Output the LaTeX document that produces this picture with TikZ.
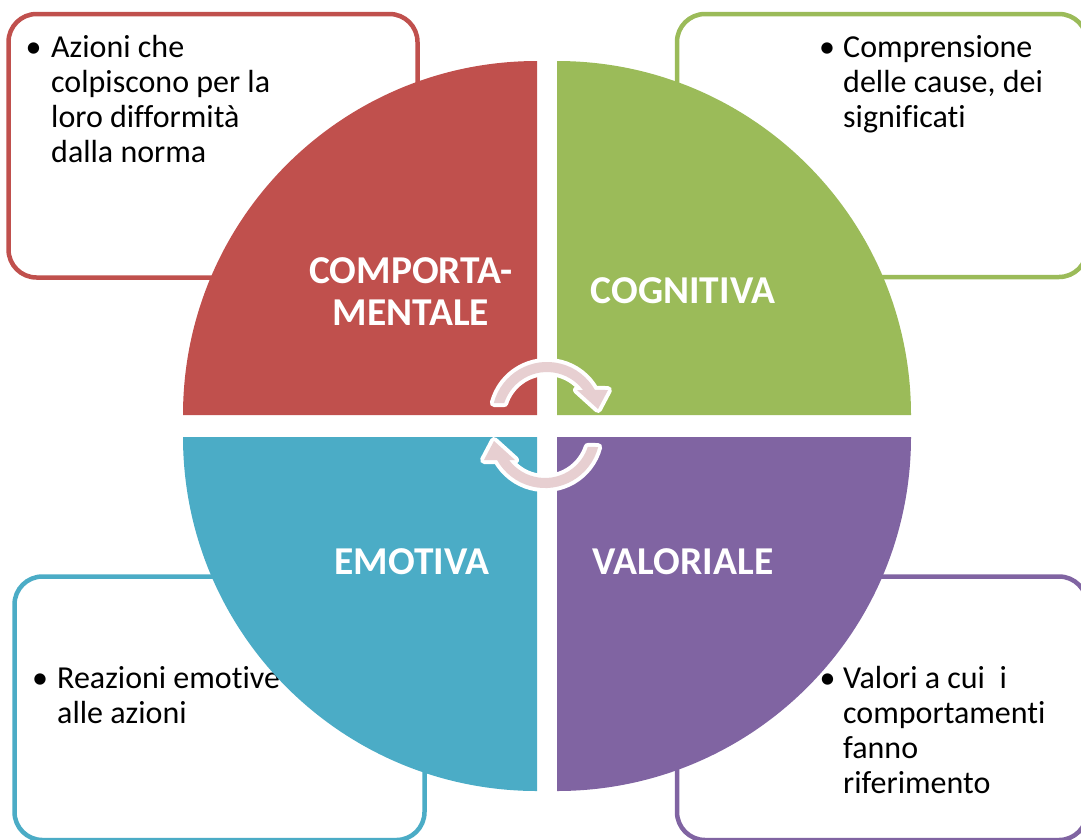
\documentclass[tikz,border=0pt]{standalone}
\usepackage{fontspec}
\setmainfont{Carlito}[Ligatures=NoCommon]
\definecolor{cred}{HTML}{C0504D}
\definecolor{cgreen}{HTML}{9BBB59}
\definecolor{cblue}{HTML}{4BACC6}
\definecolor{cpurple}{HTML}{8064A2}
\definecolor{apink}{HTML}{E7CFD1}
\begin{document}
\begin{tikzpicture}[x=1pt,y=1pt,
  infobox/.style={line width=4.5pt, rounded corners=28pt, fill=white},
  bodytext/.style={anchor=base west, inner sep=0pt, font=\fontsize{32}{35}\selectfont},
  bulletmark/.style={anchor=base, inner sep=0pt, font=\fontsize{32}{35}\selectfont},
  headtext/.style={anchor=base, inner sep=0pt, text=white, font=\bfseries\fontsize{39.5}{42}\selectfont},
  cyclearrow/.style={fill=apink, preaction={draw=white, line width=8pt, line join=round}}]
\useasboundingbox (0,0) rectangle (1081,-839);

% information boxes
\draw[infobox, draw=cred] (8.5,-14) rectangle (417.5,-277.5);
\draw[infobox, draw=cgreen] (677,-14) rectangle (1087,-277);
\draw[infobox, draw=cblue] (14.5,-576.5) rectangle (424.5,-840);
\draw[infobox, draw=cpurple] (677,-576.5) rectangle (1087,-840);

\node[bulletmark] (b1) at (33.5,-57) {•};
\node[bodytext] (t1) at (51,-57) {\parbox[t]{360pt}{Azioni che\\colpiscono per la\\loro difformità\\dalla norma}};
\node[bulletmark] (b2) at (827,-57) {•};
\node[bodytext] (t2) at (843,-57) {\parbox[t]{300pt}{Comprensione\\delle cause, dei\\significati}};
\node[bulletmark] (b3) at (40,-688) {•};
\node[bodytext] (t3) at (57,-688) {\parbox[t]{360pt}{Reazioni emotive\\alle azioni}};
\node[bulletmark] (b4) at (827.5,-688) {•};
\node[bodytext] (t4) at (843,-688) {\parbox[t]{300pt}{Valori a cui\ \ i\\comportamenti\\fanno\\riferimento}};

% quadrants
\fill[cred] (537,-415) -- (183,-415) arc[start angle=180, end angle=90, radius=354] -- cycle;
\fill[cgreen] (557,-415) -- (557,-61) arc[start angle=90, end angle=0, radius=354] -- cycle;
\fill[cblue] (537,-437) -- (183,-437) arc[start angle=180, end angle=270, radius=354] -- cycle;
\fill[cpurple] (557,-437) -- (911,-437) arc[start angle=0, end angle=-90, radius=354] -- cycle;

% headings
\node[headtext] (h1) at (411,-283) {\parbox[t]{400pt}{\centering COMPORTA-\\MENTALE}};
\node[headtext] (h2) at (683,-303) {COGNITIVA};
\node[headtext] (h3) at (412,-574) {EMOTIVA};
\node[headtext] (h4) at (683,-574) {VALORIALE};

% cycle arrows
\path[cyclearrow] (493.8,-403) arc[start angle=165.3, end angle=29.4, radius=55]
  -- (608,-390) -- (598,-409) -- (577,-390) -- (583,-390)
  arc[start angle=36.9, end angle=161.9, radius=45] -- cycle;
\begin{scope}[rotate around={180:(546,-425)}]
\path[cyclearrow] (493.8,-403) arc[start angle=165.3, end angle=29.4, radius=55]
  -- (608,-390) -- (598,-409) -- (577,-390) -- (583,-390)
  arc[start angle=36.9, end angle=161.9, radius=45] -- cycle;
\end{scope}
\end{tikzpicture}
\end{document}
